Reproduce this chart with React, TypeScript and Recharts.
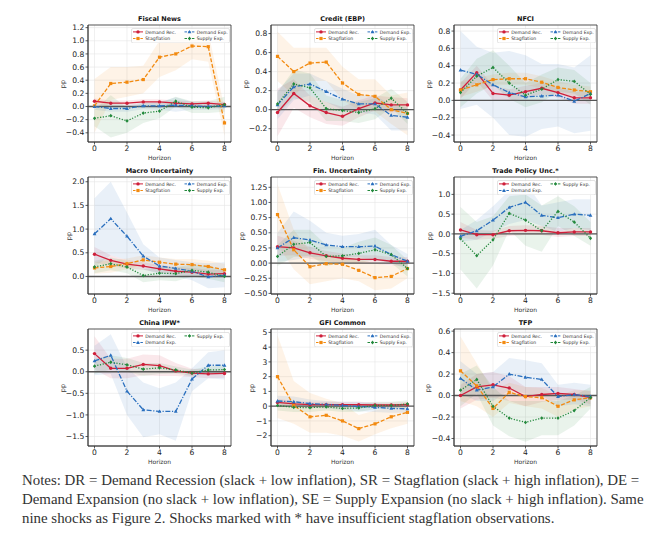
import React from 'react';
import { ComposedChart, Line, Area, XAxis, YAxis, CartesianGrid, ReferenceLine, ReferenceArea } from 'recharts';

const HORIZONS = [0, 1, 2, 3, 4, 5, 6, 7, 8];
const X_TICKS = [0, 2, 4, 6, 8];
const X_DOMAIN: [number, number] = [-0.4, 8.4];

const COLORS: Record<string, string> = { DR: '#cf1f3a', SR: '#f28a10', DE: '#2a6fbe', SE: '#23893c' };
const NAMES: Record<string, string> = { DR: 'Demand Rec.', SR: 'Stagflation', DE: 'Demand Exp.', SE: 'Supply Exp.' };
const DASH: Record<string, string | undefined> = { DR: undefined, SR: '4 1.8', DE: '5 1.6 1.2 1.6', SE: '1.2 1.6' };

// ---- Fiscal News ----
const FISCAL_MEAN = {
  DR: [0.08, 0.05, 0.05, 0.07, 0.07, 0.05, 0.04, 0.05, 0.03],
  SR: [0.01, 0.35, 0.37, 0.41, 0.75, 0.8, 0.92, 0.91, -0.25],
  DE: [0.0, -0.03, -0.03, 0.01, 0.01, 0.02, 0.01, 0.0, 0.01],
  SE: [-0.18, -0.14, -0.22, -0.1, -0.07, 0.08, -0.01, -0.02, 0.03],
};
const FISCAL_LO = {
  DR: [0.04, 0.01, 0.01, 0.03, 0.03, 0.01, 0.0, 0.01, -0.01],
  SR: [-0.4, 0.1, 0.15, 0.2, 0.45, 0.55, 0.72, 0.68, -0.45],
  DE: [-0.05, -0.08, -0.08, -0.04, -0.05, -0.08, -0.05, -0.05, -0.04],
  SE: [-0.3, -0.47, -0.4, -0.25, -0.18, 0.0, -0.1, -0.1, -0.08],
};
const FISCAL_HI = {
  DR: [0.12, 0.09, 0.09, 0.11, 0.11, 0.09, 0.08, 0.09, 0.07],
  SR: [0.42, 0.6, 0.6, 0.62, 1.0, 1.12, 1.15, 1.14, -0.03],
  DE: [0.05, 0.02, 0.02, 0.06, 0.07, 0.14, 0.07, 0.05, 0.06],
  SE: [-0.05, 0.17, -0.02, 0.05, 0.05, 0.15, 0.08, 0.08, 0.15],
};

// ---- Credit (EBP) ----
const CREDIT_MEAN = {
  DR: [-0.03, 0.17, 0.04, -0.03, -0.07, 0.01, 0.07, 0.05, 0.05],
  SR: [0.56, 0.4, 0.49, 0.5, 0.28, 0.16, 0.14, 0.0, -0.04],
  DE: [0.05, 0.24, 0.27, 0.19, 0.11, 0.06, 0.06, -0.06, -0.08],
  SE: [0.06, 0.27, 0.23, 0.01, -0.01, -0.03, 0.01, 0.12, -0.04],
};
const CREDIT_LO = {
  DR: [-0.28, 0.02, -0.08, -0.15, -0.17, -0.08, -0.01, -0.03, -0.02],
  SR: [0.3, 0.15, 0.3, 0.3, 0.1, 0.0, -0.02, -0.15, -0.27],
  DE: [-0.1, 0.1, 0.15, 0.08, 0.0, -0.03, -0.05, -0.22, -0.22],
  SE: [-0.05, 0.12, 0.08, -0.12, -0.12, -0.14, -0.1, 0.02, -0.15],
};
const CREDIT_HI = {
  DR: [0.22, 0.32, 0.15, 0.08, 0.03, 0.1, 0.15, 0.13, 0.12],
  SR: [0.82, 0.65, 0.65, 0.65, 0.45, 0.32, 0.32, 0.15, 0.18],
  DE: [0.2, 0.38, 0.38, 0.3, 0.22, 0.15, 0.15, 0.05, 0.02],
  SE: [0.18, 0.42, 0.38, 0.15, 0.1, 0.08, 0.12, 0.22, 0.08],
};

// ---- NFCI ----
const NFCI_MEAN = {
  DR: [0.12, 0.32, 0.08, 0.06, 0.1, 0.14, 0.09, 0.03, 0.03],
  SR: [0.12, 0.18, 0.24, 0.25, 0.25, 0.21, 0.15, 0.12, 0.1],
  DE: [0.35, 0.3, 0.18, 0.09, 0.04, 0.05, 0.06, -0.01, 0.08],
  SE: [0.09, 0.28, 0.38, 0.2, 0.06, 0.13, 0.24, 0.22, 0.07],
};
const NFCI_LO = {
  DR: [0.02, 0.22, 0.0, -0.01, 0.03, 0.07, 0.03, -0.04, -0.04],
  SR: [0.04, 0.1, 0.17, 0.18, 0.18, 0.14, 0.08, 0.05, 0.04],
  DE: [-0.1, -0.05, -0.2, -0.4, -0.42, -0.33, -0.3, -0.38, -0.35],
  SE: [-0.08, 0.08, 0.18, 0.02, -0.08, -0.02, 0.1, 0.08, -0.05],
};
const NFCI_HI = {
  DR: [0.2, 0.4, 0.17, 0.13, 0.17, 0.2, 0.15, 0.1, 0.1],
  SR: [0.22, 0.26, 0.3, 0.32, 0.32, 0.28, 0.22, 0.18, 0.16],
  DE: [0.8, 0.62, 0.55, 0.57, 0.52, 0.42, 0.42, 0.38, 0.52],
  SE: [0.25, 0.48, 0.58, 0.4, 0.2, 0.3, 0.38, 0.35, 0.2],
};

// ---- Macro Uncertainty ----
const MACRO_MEAN = {
  DR: [0.47, 0.34, 0.26, 0.22, 0.16, 0.11, 0.09, 0.05, 0.06],
  SR: [0.18, 0.21, 0.27, 0.35, 0.3, 0.26, 0.25, 0.21, 0.14],
  DE: [0.9, 1.22, 0.85, 0.43, 0.22, 0.17, 0.11, -0.01, 0.03],
  SE: [0.2, 0.27, 0.2, 0.02, 0.07, 0.06, 0.13, 0.09, 0.0],
};
const MACRO_LO = {
  DR: [0.3, 0.22, 0.17, 0.14, 0.08, 0.03, 0.0, -0.03, -0.02],
  SR: [0.06, 0.08, 0.15, 0.25, 0.2, 0.15, 0.13, 0.1, 0.02],
  DE: [0.2, 0.45, 0.35, 0.15, 0.05, 0.0, -0.08, -0.25, -0.23],
  SE: [0.07, 0.13, 0.07, -0.12, -0.08, -0.1, 0.0, -0.05, -0.12],
};
const MACRO_HI = {
  DR: [0.62, 0.45, 0.35, 0.3, 0.24, 0.2, 0.18, 0.14, 0.14],
  SR: [0.3, 0.35, 0.38, 0.45, 0.4, 0.37, 0.37, 0.33, 0.27],
  DE: [1.65, 2.0, 1.35, 0.68, 0.4, 0.35, 0.3, 0.28, 0.3],
  SE: [0.33, 0.4, 0.33, 0.15, 0.2, 0.2, 0.25, 0.22, 0.12],
};

// ---- Fin. Uncertainty ----
const FIN_MEAN = {
  DR: [0.27, 0.25, 0.17, 0.12, 0.08, 0.06, 0.06, 0.03, 0.03],
  SR: [0.8, 0.22, -0.06, -0.01, -0.02, -0.12, -0.24, -0.22, -0.09],
  DE: [0.25, 0.42, 0.38, 0.3, 0.27, 0.27, 0.28, 0.14, 0.03],
  SE: [0.11, 0.31, 0.34, 0.11, 0.12, 0.16, 0.22, 0.14, -0.09],
};
const FIN_LO = {
  DR: [0.12, 0.13, 0.07, 0.03, 0.0, -0.01, -0.01, -0.04, -0.04],
  SR: [0.3, -0.1, -0.35, -0.3, -0.25, -0.3, -0.45, -0.42, -0.25],
  DE: [0.02, 0.05, 0.1, 0.1, 0.1, 0.1, 0.05, 0.0, -0.1],
  SE: [-0.05, 0.1, 0.12, -0.05, 0.0, 0.0, 0.05, 0.0, -0.22],
};
const FIN_HI = {
  DR: [0.45, 0.37, 0.27, 0.2, 0.16, 0.13, 0.13, 0.1, 0.1],
  SR: [1.3, 0.55, 0.2, 0.15, 0.12, 0.05, 0.0, -0.05, 0.05],
  DE: [0.5, 0.85, 0.7, 0.5, 0.45, 0.48, 0.55, 0.3, 0.15],
  SE: [0.3, 0.55, 0.55, 0.3, 0.25, 0.35, 0.42, 0.3, 0.05],
};

// ---- Trade Policy Unc.* ----
const TRADE_MEAN = {
  DR: [0.1, -0.02, -0.02, 0.08, 0.09, 0.08, 0.03, 0.05, 0.05],
  DE: [-0.06, 0.08, 0.35, 0.67, 0.8, 0.47, 0.41, 0.5, 0.47],
  SE: [-0.12, -0.55, -0.15, 0.52, 0.35, 0.08, 0.57, 0.3, -0.11],
};
const TRADE_LO = {
  DR: [-0.1, -0.15, -0.12, -0.05, -0.03, -0.03, -0.08, -0.05, -0.05],
  DE: [-0.2, -0.15, 0.05, 0.25, 0.35, 0.2, 0.05, 0.15, 0.1],
  SE: [-0.9, -1.38, -0.8, 0.1, -0.3, -0.45, 0.2, -0.05, -0.3],
};
const TRADE_HI = {
  DR: [0.3, 0.1, 0.08, 0.2, 0.22, 0.2, 0.15, 0.15, 0.15],
  DE: [0.1, 0.35, 0.7, 1.1, 1.3, 0.72, 0.8, 0.88, 0.88],
  SE: [0.68, 0.3, 0.45, 0.95, 1.0, 0.72, 0.95, 0.7, 0.3],
};

// ---- China IPW* ----
const CHINA_MEAN = {
  DR: [0.42, 0.08, 0.08, 0.17, 0.14, 0.02, -0.03, -0.05, -0.04],
  DE: [0.25, 0.38, -0.45, -0.88, -0.92, -0.92, -0.17, 0.15, 0.15],
  SE: [0.13, 0.22, 0.16, 0.06, 0.09, 0.04, -0.03, 0.04, 0.05],
};
const CHINA_LO = {
  DR: [0.05, -0.15, -0.15, -0.08, -0.1, -0.1, -0.12, -0.15, -0.14],
  DE: [-0.08, -0.05, -1.0, -1.52, -1.45, -1.6, -0.45, -0.15, -0.18],
  SE: [-0.05, 0.05, 0.0, -0.1, -0.05, -0.04, -0.1, -0.05, -0.05],
};
const CHINA_HI = {
  DR: [0.82, 0.3, 0.3, 0.4, 0.38, 0.2, 0.07, 0.05, 0.05],
  DE: [0.6, 0.87, 0.1, -0.25, -0.38, -0.25, 0.08, 0.45, 0.5],
  SE: [0.3, 0.38, 0.32, 0.2, 0.2, 0.12, 0.05, 0.12, 0.15],
};

// ---- GFI Common ----
const GFI_MEAN = {
  DR: [0.25, 0.15, 0.1, 0.1, 0.1, 0.1, 0.08, 0.08, 0.1],
  SR: [2.0, 0.05, -0.72, -0.62, -1.0, -1.52, -1.2, -0.72, -0.42],
  DE: [0.35, 0.3, 0.18, 0.12, 0.05, -0.02, -0.08, -0.15, -0.18],
  SE: [0.05, -0.08, -0.1, -0.05, -0.15, -0.12, 0.05, 0.05, 0.15],
};
const GFI_LO = {
  DR: [0.0, -0.05, -0.1, -0.1, -0.1, -0.1, -0.1, -0.1, -0.08],
  SR: [-0.8, -1.2, -1.8, -1.8, -2.0, -2.4, -1.9, -1.5, -1.2],
  DE: [0.0, -0.05, -0.1, -0.15, -0.25, -0.35, -0.4, -0.45, -0.45],
  SE: [-0.3, -0.4, -0.4, -0.3, -0.4, -0.4, -0.2, -0.2, -0.1],
};
const GFI_HI = {
  DR: [0.5, 0.35, 0.3, 0.3, 0.3, 0.3, 0.25, 0.25, 0.28],
  SR: [4.8, 1.7, 0.9, 0.5, 0.2, -0.6, -0.3, -0.05, 0.3],
  DE: [0.7, 0.65, 0.45, 0.35, 0.3, 0.3, 0.2, 0.1, 0.05],
  SE: [0.4, 0.25, 0.2, 0.2, 0.1, 0.15, 0.3, 0.3, 0.4],
};

// ---- TFP ----
const TFP_MEAN = {
  DR: [0.0, 0.08, 0.1, 0.07, -0.01, 0.01, 0.02, 0.01, -0.02],
  SR: [0.23, 0.09, -0.12, 0.03, -0.01, -0.02, -0.1, -0.04, -0.02],
  DE: [0.16, 0.05, 0.08, 0.2, 0.17, 0.15, -0.01, 0.01, -0.01],
  SE: [0.05, 0.15, -0.1, -0.21, -0.25, -0.21, -0.21, -0.14, -0.02],
};
const TFP_LO = {
  DR: [-0.12, -0.04, -0.02, -0.05, -0.1, -0.06, -0.04, -0.04, -0.08],
  SR: [-0.05, -0.1, -0.2, -0.07, -0.1, -0.12, -0.2, -0.13, -0.1],
  DE: [0.02, -0.05, -0.05, 0.05, 0.02, 0.0, -0.1, -0.08, -0.1],
  SE: [-0.1, 0.02, -0.28, -0.38, -0.43, -0.37, -0.37, -0.28, -0.12],
};
const TFP_HI = {
  DR: [0.1, 0.2, 0.22, 0.18, 0.08, 0.08, 0.08, 0.06, 0.04],
  SR: [0.55, 0.3, 0.05, 0.12, 0.08, 0.07, 0.0, 0.05, 0.05],
  DE: [0.32, 0.2, 0.22, 0.35, 0.33, 0.3, 0.1, 0.12, 0.1],
  SE: [0.2, 0.28, 0.08, -0.05, -0.05, -0.05, -0.05, 0.0, 0.08],
};

const BOX_W = 143;
const BOX_H = 117;
const COL_LEFT = [88, 271, 454];
const ROW_TOP = [25, 177, 329];

const FONT = "'DejaVu Sans', sans-serif";

function fmt(dec: number) {
  return (v: number) => {
    const s = Math.abs(v).toFixed(dec);
    return v < -1e-9 ? '\u2212' + s : s;
  };
}

function makeDot(k: string) {
  return (props: any) => {
    const { cx, cy, index } = props;
    const c = COLORS[k];
    if (cx == null || cy == null) return <g key={`${k}-${index}`} />;
    if (k === 'DR') return <circle key={`${k}-${index}`} cx={cx} cy={cy} r={1.7} fill={c} />;
    if (k === 'SR') return <rect key={`${k}-${index}`} x={cx - 1.6} y={cy - 1.6} width={3.2} height={3.2} fill={c} />;
    if (k === 'DE')
      return <path key={`${k}-${index}`} d={`M${cx},${cy - 2} L${cx + 1.9},${cy + 1.4} L${cx - 1.9},${cy + 1.4} Z`} fill={c} />;
    return <path key={`${k}-${index}`} d={`M${cx},${cy - 1.9} L${cx + 1.6},${cy} L${cx},${cy + 1.9} L${cx - 1.6},${cy} Z`} fill={c} />;
  };
}

function Legend({ keys, left, top }: { keys: string[]; left: number; top: number }) {
  const LW = 98;
  const LH = 14.5;
  const cols: string[][] = keys.length === 4 ? [[keys[0], keys[1]], [keys[2], keys[3]]] : [[keys[0], keys[1]], [keys[2]]];
  const colX = [2, 53.5];
  const rowY = [3.9, 10.5];
  return (
    <svg style={{ position: 'absolute', left, top }} width={LW + 1} height={LH + 1}>
      <rect x={0.5} y={0.5} width={LW} height={LH} rx={1.5} fill="#ffffff" fillOpacity={0.8} stroke="#d0d0d0" strokeWidth={0.6} />
      {cols.map((col, ci) =>
        col.map((k, ri) => {
          const x0 = colX[ci];
          const y = rowY[ri];
          const c = COLORS[k];
          return (
            <g key={k}>
              <line x1={x0} x2={x0 + 10} y1={y} y2={y} stroke={c} strokeWidth={1} strokeDasharray={DASH[k] ? '2.5 1.2' : undefined} />
              {makeDot(k)({ cx: x0 + 5, cy: y, index: 'leg' })}
              <text x={x0 + 12.2} y={y + 1.6} fontSize={4.6} fill="#333" fontFamily={FONT}>
                {NAMES[k]}
              </text>
            </g>
          );
        })
      )}
    </svg>
  );
}

type PanelProps = {
  title: string;
  mean: Record<string, number[]>;
  lo: Record<string, number[]>;
  hi: Record<string, number[]>;
  yDomain: [number, number];
  yTicks: number[];
  dec: number;
  col: number;
  row: number;
  ppOff: number;
};

function Panel({ title, mean, lo, hi, yDomain, yTicks, dec, col, row, ppOff }: PanelProps) {
  const keys = ['DR', 'SR', 'DE', 'SE'].filter((k) => mean[k]);
  const data = HORIZONS.map((h, i) => {
    const r: any = { h };
    keys.forEach((k) => {
      r[k] = mean[k][i];
      r[k + '_band'] = [lo[k][i], hi[k][i]];
    });
    return r;
  });
  const boxLeft = COL_LEFT[col];
  const boxTop = ROW_TOP[row];
  const YW = 44;
  const MT = 4;
  const MR = 4;
  const XH = 24;
  const W = YW + BOX_W + MR;
  const H = MT + BOX_H + XH;
  const tickStyle = { fontSize: 7.6, fill: '#222', fontFamily: FONT };
  return (
    <>
      <div style={{ position: 'absolute', left: boxLeft - YW, top: boxTop - MT }}>
        <ComposedChart width={W} height={H} data={data} margin={{ top: MT, right: MR, left: 0, bottom: 0 }}>
          <CartesianGrid stroke="#e6e6e6" strokeWidth={0.6} />
          <XAxis
            type="number"
            dataKey="h"
            domain={X_DOMAIN}
            ticks={X_TICKS}
            allowDataOverflow
            interval={0}
            height={XH}
            tickSize={2.5}
            tickMargin={1.5}
            tick={tickStyle}
            stroke="#333"
            strokeWidth={0.8}
          />
          <YAxis
            type="number"
            domain={yDomain}
            ticks={yTicks}
            allowDataOverflow
            interval={0}
            width={YW}
            tickSize={2.5}
            tickMargin={1.2}
            tick={tickStyle}
            tickFormatter={fmt(dec)}
            stroke="#333"
            strokeWidth={0.8}
          />
          {keys.map((k) => (
            <Area
              key={k + '_band'}
              dataKey={k + '_band'}
              type="linear"
              stroke="none"
              fill={COLORS[k]}
              fillOpacity={0.1}
              isAnimationActive={false}
              activeDot={false}
              dot={false}
            />
          ))}
          <ReferenceLine y={0} stroke="#555" strokeWidth={1.4} />
          {keys.map((k) => (
            <Line
              key={k}
              dataKey={k}
              type="linear"
              stroke={COLORS[k]}
              strokeWidth={1.3}
              strokeDasharray={DASH[k]}
              dot={makeDot(k)}
              activeDot={false}
              isAnimationActive={false}
            />
          ))}
          <ReferenceArea x1={X_DOMAIN[0]} x2={X_DOMAIN[1]} y1={yDomain[0]} y2={yDomain[1]} fill="none" stroke="#333" strokeWidth={0.8} ifOverflow="visible" />
        </ComposedChart>
      </div>
      <div
        style={{
          position: 'absolute',
          left: boxLeft,
          width: BOX_W,
          top: boxTop - 10,
          lineHeight: '8px',
          textAlign: 'center',
          fontFamily: FONT,
          fontWeight: 'bold',
          fontSize: 6.5,
          color: '#111',
          whiteSpace: 'nowrap',
        }}
      >
        {title}
      </div>
      <div
        style={{
          position: 'absolute',
          left: boxLeft,
          width: BOX_W,
          top: boxTop + BOX_H + 12,
          lineHeight: '8px',
          textAlign: 'center',
          fontFamily: FONT,
          fontSize: 6,
          color: '#333',
        }}
      >
        Horizon
      </div>
      <div
        style={{
          position: 'absolute',
          left: boxLeft - ppOff - 10,
          width: 20,
          top: boxTop + BOX_H / 2 - 4,
          lineHeight: '8px',
          textAlign: 'center',
          fontFamily: FONT,
          fontSize: 6.5,
          color: '#333',
          transform: 'rotate(-90deg)',
        }}
      >
        pp
      </div>
      <Legend keys={keys} left={boxLeft + BOX_W - 2.5 - 98} top={boxTop + 2.5} />
    </>
  );
}

const NOTES_LINES = [
  'Notes: DR = Demand Recession (slack + low inflation), SR = Stagflation (slack + high inflation), DE =',
  'Demand Expansion (no slack + low inflation), SE = Supply Expansion (no slack + high inflation). Same',
  'nine shocks as Figure 2. Shocks marked with * have insufficient stagflation observations.',
];

export default function App() {
  return (
    <div style={{ position: 'absolute', left: 0, top: 0, width: 657, height: 533, background: '#ffffff', overflow: 'hidden' }}>
      <Panel title="Fiscal News" mean={FISCAL_MEAN} lo={FISCAL_LO} hi={FISCAL_HI} yDomain={[-0.54, 1.24]} yTicks={[-0.4, -0.2, 0, 0.2, 0.4, 0.6, 0.8, 1.0, 1.2]} dec={1} col={0} row={0} ppOff={25} />
      <Panel title="Credit (EBP)" mean={CREDIT_MEAN} lo={CREDIT_LO} hi={CREDIT_HI} yDomain={[-0.34, 0.89]} yTicks={[-0.2, 0, 0.2, 0.4, 0.6, 0.8]} dec={1} col={1} row={0} ppOff={25} />
      <Panel title="NFCI" mean={NFCI_MEAN} lo={NFCI_LO} hi={NFCI_HI} yDomain={[-0.48, 0.87]} yTicks={[-0.4, -0.2, 0, 0.2, 0.4, 0.6, 0.8]} dec={1} col={2} row={0} ppOff={25} />
      <Panel title="Macro Uncertainty" mean={MACRO_MEAN} lo={MACRO_LO} hi={MACRO_HI} yDomain={[-0.37, 2.1]} yTicks={[0, 0.5, 1.0, 1.5, 2.0]} dec={1} col={0} row={1} ppOff={19} />
      <Panel title="Fin. Uncertainty" mean={FIN_MEAN} lo={FIN_LO} hi={FIN_HI} yDomain={[-0.51, 1.42]} yTicks={[-0.5, -0.25, 0, 0.25, 0.5, 0.75, 1.0, 1.25]} dec={2} col={1} row={1} ppOff={29} />
      <Panel title="Trade Policy Unc.*" mean={TRADE_MEAN} lo={TRADE_LO} hi={TRADE_HI} yDomain={[-1.52, 1.44]} yTicks={[-1.5, -1.0, -0.5, 0, 0.5, 1.0]} dec={1} col={2} row={1} ppOff={24} />
      <Panel title="China IPW*" mean={CHINA_MEAN} lo={CHINA_LO} hi={CHINA_HI} yDomain={[-1.72, 0.99]} yTicks={[-1.5, -1.0, -0.5, 0, 0.5]} dec={1} col={0} row={2} ppOff={25} />
      <Panel title="GFI Common" mean={GFI_MEAN} lo={GFI_LO} hi={GFI_HI} yDomain={[-2.7, 5.23]} yTicks={[-2, -1, 0, 1, 2, 3, 4, 5]} dec={0} col={1} row={2} ppOff={19} />
      <Panel title="TFP" mean={TFP_MEAN} lo={TFP_LO} hi={TFP_HI} yDomain={[-0.47, 0.62]} yTicks={[-0.4, -0.2, 0, 0.2, 0.4, 0.6]} dec={1} col={2} row={2} ppOff={26} />
      <div
        style={{
          position: 'absolute',
          left: 22,
          top: 471,
          fontFamily: "'Liberation Serif', serif",
          fontSize: 14.9,
          lineHeight: '19px',
          color: '#333',
          whiteSpace: 'nowrap',
        }}
      >
        {NOTES_LINES.map((l, i) => (
          <div key={i}>{l}</div>
        ))}
      </div>
    </div>
  );
}
